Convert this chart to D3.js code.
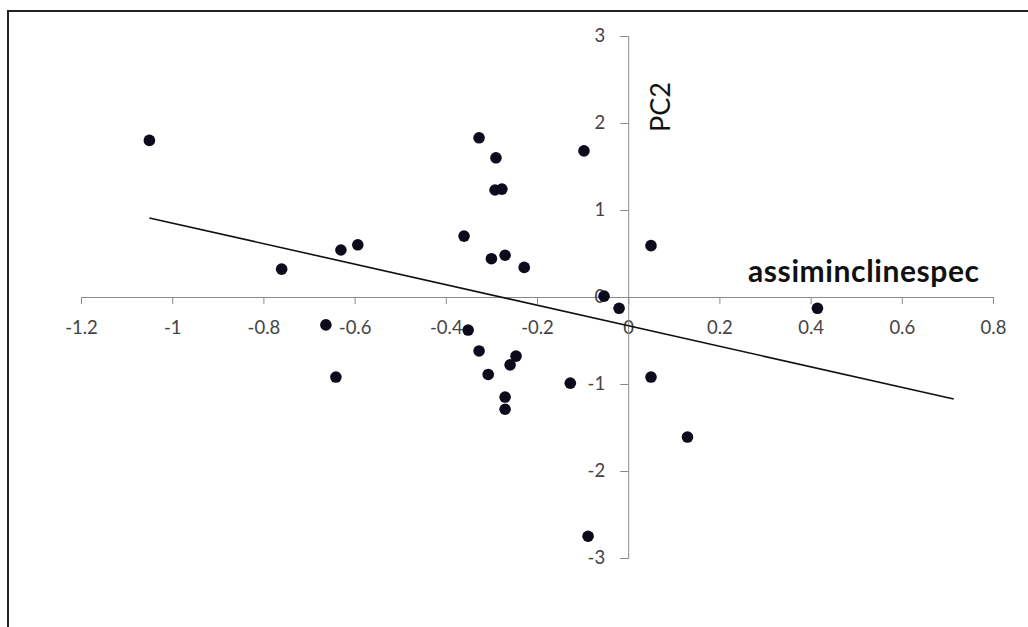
<!DOCTYPE html>
<html>
<head>
<meta charset="utf-8">
<script src="https://cdn.jsdelivr.net/npm/d3@7"></script>
<style>
  html, body { margin: 0; padding: 0; background: #fff; }
  svg { display: block; }
  text { font-family: Lato, "Open Sans", sans-serif; }
</style>
</head>
<body>
<svg id="chart" width="1028" height="627"></svg>
<script>
// Component scores: first axis (assiminclinespec) vs PC2
const xValues = [-1.05, -0.76, -0.63, -0.593, -0.663, -0.641, -0.327, -0.29, -0.292, -0.277,
                 -0.36, -0.30, -0.27, -0.228, -0.351, -0.327, -0.307, -0.246, -0.259, -0.27,
                 -0.27, -0.127, -0.097, -0.053, -0.02, 0.05, 0.05, 0.13, 0.415, -0.088];
const yValues = [1.80, 0.32, 0.54, 0.60, -0.32, -0.92, 1.83, 1.60, 1.23, 1.24,
                 0.70, 0.44, 0.48, 0.34, -0.38, -0.62, -0.89, -0.68, -0.78, -1.15,
                 -1.29, -0.99, 1.68, 0.01, -0.13, 0.59, -0.92, -1.61, -0.13, -2.75];

// Linear trend line: intercept, slope and the x span it is drawn over
const trendIntercept = -0.33;
const trendSlope = -1.18;
const trendRange = [-1.05, 0.714];

const xTicks = [-1.2, -1, -0.8, -0.6, -0.4, -0.2, 0, 0.2, 0.4, 0.6, 0.8];
const xTickLabels = ["-1.2", "-1", "-0.8", "-0.6", "-0.4", "-0.2", "0", "0.2", "0.4", "0.6", "0.8"];
const yTicks = [-3, -2, -1, 0, 1, 2, 3];
const yTickLabels = ["-3", "-2", "-1", "0", "1", "2", "3"];

const xTitle = "assiminclinespec";
const yTitle = "PC2";

const svg = d3.select("#chart");

// Outer chart frame
svg.append("rect")
  .attr("x", 8).attr("y", 11)
  .attr("width", 1200).attr("height", 800)
  .attr("fill", "#fff")
  .attr("stroke", "#222").attr("stroke-width", 2);

const x = d3.scaleLinear().domain([-1.2, 0.8]).range([81, 993]);
const y = d3.scaleLinear().domain([-3, 3]).range([558, 36]);

const axisColor = "#8a8a8a";
const labelColor = "#444";

// Horizontal axis through y = 0
const xAxis = d3.axisBottom(x)
  .tickValues(xTicks)
  .tickFormat((d, i) => xTickLabels[i])
  .tickSize(7)
  .tickPadding(17)
  .tickSizeOuter(0);

const gx = svg.append("g")
  .attr("transform", `translate(0,${y(0)})`)
  .call(xAxis);
gx.select(".domain").attr("stroke", axisColor);
gx.selectAll(".tick line").attr("stroke", axisColor);
gx.selectAll(".tick text")
  .attr("fill", labelColor)
  .style("font-size", "18.5px");

// Vertical axis through x = 0
const yAxis = d3.axisLeft(y)
  .tickValues(yTicks)
  .tickFormat((d, i) => yTickLabels[i])
  .tickSize(8)
  .tickPadding(15)
  .tickSizeOuter(8);

const gy = svg.append("g")
  .attr("transform", `translate(${x(0)},0)`)
  .call(yAxis);
gy.select(".domain").attr("stroke", axisColor);
gy.selectAll(".tick line").attr("stroke", axisColor);
gy.selectAll(".tick text")
  .attr("fill", labelColor)
  .style("font-size", "18.5px");

// Axis titles
svg.append("text")
  .attr("x", 748).attr("y", 282)
  .attr("fill", "#111")
  .style("font-size", "30px")
  .style("font-weight", "bold")
  .style("letter-spacing", "0.6px")
  .text(xTitle);

svg.append("text")
  .attr("transform", `translate(670,107) rotate(-90)`)
  .attr("text-anchor", "middle")
  .attr("fill", "#111")
  .style("font-size", "27px")
  .text(yTitle);

// Points
const points = xValues.map((v, i) => ({ x: v, y: yValues[i] }));
svg.append("g")
  .selectAll("circle")
  .data(points)
  .join("circle")
  .attr("cx", d => x(d.x))
  .attr("cy", d => y(d.y))
  .attr("r", 5.8)
  .attr("fill", "#0b0b1c");

// Trend line
const line = d3.line().x(d => x(d)).y(d => y(trendIntercept + trendSlope * d));
svg.append("path")
  .datum(trendRange)
  .attr("d", line)
  .attr("fill", "none")
  .attr("stroke", "#111")
  .attr("stroke-width", 1.6);
</script>
</body>
</html>
